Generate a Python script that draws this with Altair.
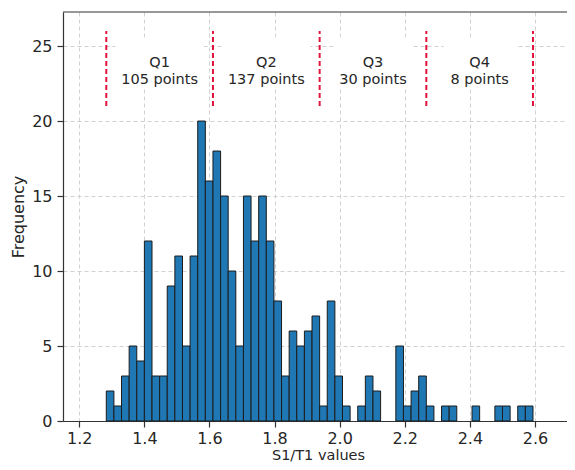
import altair as alt
import pandas as pd
import numpy as np

# ---- data ----
counts = [2, 1, 3, 5, 4, 12, 3, 3, 9, 11, 5, 11, 20, 16, 18, 15, 10, 5, 15, 12,
          15, 12, 8, 3, 6, 5, 6, 7, 1, 8, 3, 1, 0, 1, 3, 2, 0, 0, 5, 1,
          2, 3, 1, 0, 1, 1, 0, 0, 1, 0, 0, 1, 1, 0, 1, 1]
data_min = 1.283
data_max = 2.594
quartile_names = ["Q1", "Q2", "Q3", "Q4"]
quartile_counts = [105, 137, 30, 8]
x_ticks = [1.2, 1.4, 1.6, 1.8, 2.0, 2.2, 2.4, 2.6]
y_ticks = [0, 5, 10, 15, 20, 25]
x_domain = [1.15, 2.6985]
y_domain = [0, 27.27]
line_y = [21, 26]
label_y = 23.9

edges = np.linspace(data_min, data_max, len(counts) + 1)
hist = pd.DataFrame({"start": edges[:-1], "end": edges[1:], "count": counts, "base": 0})
hist = hist[hist["count"] > 0]

q_edges = np.linspace(data_min, data_max, 5)
lines = pd.DataFrame({"x": q_edges, "y1": line_y[0], "y2": line_y[1]})
labels = pd.DataFrame({
    "x": (q_edges[:-1] + q_edges[1:]) / 2,
    "y": label_y,
    "text": [f"{n}\n{c} points" for n, c in zip(quartile_names, quartile_counts)],
    "second": [f"{c} points" for c in quartile_counts],
})

W, H = 504, 409
FONT = "DejaVu Sans"

xs = alt.Scale(domain=x_domain, nice=False, zero=False)
ys = alt.Scale(domain=y_domain, nice=False, zero=False)

bars = alt.Chart(hist).mark_rect(
    color="#1f77b4", stroke="#1c1c1c", strokeWidth=1
).encode(
    x=alt.X("start:Q", scale=xs,
            axis=alt.Axis(values=x_ticks, format=".1f", title="S1/T1 values",
                          titleBaseline="alphabetic", titleY=38.3, titleX=255,
                          titleFontSize=14.5, labelPadding=3)),
    x2="end:Q",
    y=alt.Y("count:Q", scale=ys,
            axis=alt.Axis(values=y_ticks, title="Frequency")),
    y2="base:Q",
)

top_line = alt.Chart(pd.DataFrame({"a": [0]})).mark_rule(
    color="#333333", strokeWidth=1.2
).encode(x=alt.value(0), x2=alt.value(W), y=alt.value(0))

red = alt.Chart(lines).mark_rule(
    color="#e0143c", strokeDash=[5, 3], strokeWidth=2
).encode(x=alt.X("x:Q", scale=xs), y=alt.Y("y1:Q", scale=ys), y2="y2:Q")

boxes = []
for i in range(4):
    w = 8 * len(labels["second"].iloc[i]) + 8
    boxes.append(
        alt.Chart(labels.iloc[[i]]).mark_rect(
            color="white", width=w, height=50
        ).encode(x=alt.X("x:Q", scale=xs), y=alt.Y("y:Q", scale=ys))
    )

texts = alt.Chart(labels).mark_text(
    font=FONT, fontSize=14.5, lineHeight=17, align="center",
    baseline="middle", lineBreak="\n", color="#262626"
).encode(x=alt.X("x:Q", scale=xs), y=alt.Y("y:Q", scale=ys), text="text:N")

chart = alt.layer(bars, *boxes, red, texts, top_line).properties(
    width=W, height=H,
    autosize=alt.AutoSizeParams(type="none"),
    padding={"left": 55, "top": 4, "right": 0, "bottom": 41},
).configure_view(strokeWidth=0).configure_axis(
    labelFont=FONT, labelFontSize=16, labelColor="#262626",
    titleFont=FONT, titleFontSize=16, titleFontWeight="normal", titleColor="#262626",
    domainColor="#333333", domainWidth=1.2, tickColor="#333333", tickWidth=1.2,
    tickSize=6, labelPadding=5, titlePadding=5,
    gridColor="#cccccc", gridDash=[4, 3], gridWidth=0.9,
)

chart.save("out.html", embed_options={"renderer": "svg", "actions": False})
